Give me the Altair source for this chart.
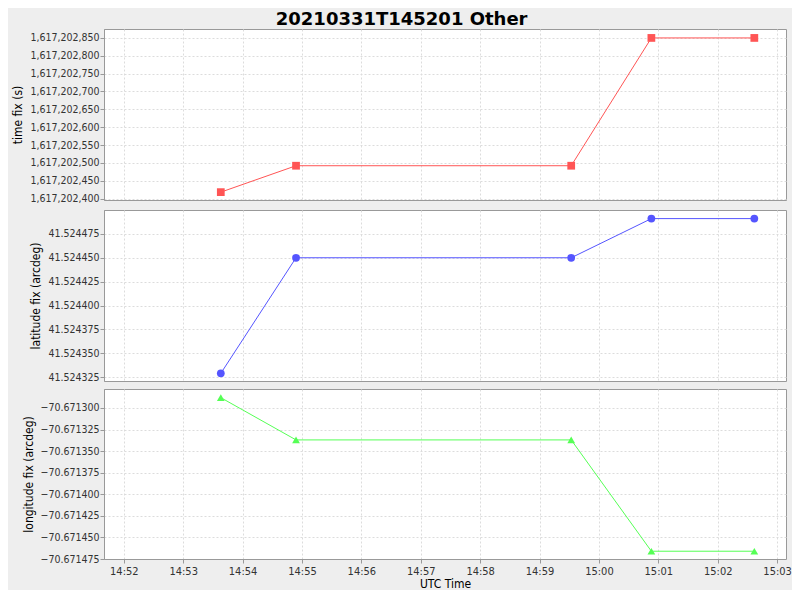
import altair as alt
import pandas as pd

# Data
utc_times = ["2021-03-31T14:53:38Z", "2021-03-31T14:54:54Z", "2021-03-31T14:59:32Z",
             "2021-03-31T15:00:53Z", "2021-03-31T15:02:37Z"]
time_fix = [1617202418, 1617202492, 1617202492, 1617202850, 1617202850]
latitude_fix = [41.524329, 41.524450, 41.524450, 41.524491, 41.524491]
longitude_fix = [-70.671288, -70.671337, -70.671337, -70.671466, -70.671466]

time_ticks = [1617202400 + 50 * i for i in range(10)]
lat_ticks = [41.524325, 41.524350, 41.524375, 41.524400, 41.524425, 41.524450, 41.524475]
lon_ticks = [-70.671475, -70.671450, -70.671425, -70.671400, -70.671375, -70.671350,
             -70.671325, -70.671300]
minute_ticks = [(14, m) for m in range(52, 60)] + [(15, m) for m in range(0, 4)]

df = pd.DataFrame({"t": utc_times, "time": time_fix, "lat": latitude_fix, "lon": longitude_fix})

FONT = "DejaVu Sans Condensed, DejaVu Sans"
x_domain = [alt.DateTime(year=2021, month=3, date=31, hours=14, minutes=51, seconds=40, utc=True),
            alt.DateTime(year=2021, month=3, date=31, hours=15, minutes=3, seconds=9, utc=True)]
x_values = [alt.DateTime(year=2021, month=3, date=31, hours=h, minutes=m, utc=True) for h, m in minute_ticks]

def xenc(show):
    if show:
        ax = alt.Axis(values=x_values, labelExpr="utcFormat(datum.value, '%H:%M')", title="UTC Time",
                      grid=True, gridDash=[2, 2], gridColor="#dcdcdc", labelFont=FONT,
                      labelFontSize=11, titleFont=FONT, titleFontSize=12, titleFontWeight="normal",
                      tickColor="#999999", domainColor="#999999", labelColor="#333333",
                      titleColor="#000000", titlePadding=2, labelPadding=2, tickSize=4)
    else:
        ax = alt.Axis(values=x_values, labels=False, ticks=False, domain=False, title=None,
                      grid=True, gridDash=[2, 2], gridColor="#dcdcdc", labelPadding=0, tickSize=0)
    return alt.X("t:T", scale=alt.Scale(type="utc", domain=x_domain, nice=False), axis=ax)

def panel(field, title, ticks, domain, fmt, color, shape, height, show_x):
    yax = alt.Axis(values=ticks, format=fmt, title=title, grid=True, gridDash=[2, 2],
                   gridColor="#dcdcdc", labelFont=FONT, labelFontSize=10.5, titleFont=FONT,
                   titleFontSize=12, titleFontWeight="normal", tickColor="#999999",
                   domainColor="#999999", labelColor="#333333", titleColor="#000000",
                   tickSize=4, labelPadding=1, titlePadding=5)
    base = alt.Chart(df).encode(
        x=xenc(show_x),
        y=alt.Y(f"{field}:Q", scale=alt.Scale(domain=domain, zero=False, nice=False), axis=yax),
    )
    line = base.mark_line(color=color, strokeWidth=1)
    pts = base.mark_point(color=color, filled=True, opacity=1, shape=shape, size=60)
    return (line + pts).properties(width=682, height=height)

p1 = panel("time", "time fix (s)", time_ticks, [1617202396, 1617202875], ",d",
           "#ff5555", "square", 171, False)
p2 = panel("lat", "latitude fix (arcdeg)", lat_ticks, [41.524321, 41.5245], ".6f",
           "#5555ff", "circle", 171, False)
p3 = panel("lon", "longitude fix (arcdeg)", lon_ticks, [-70.671475, -70.671278], ".6f",
           "#55ff55", "triangle-up", 170, True)

chart = alt.vconcat(p1, p2, p3, spacing=4).properties(
    title=alt.TitleParams("20210331T145201 Other", font="DejaVu Sans", fontSize=18, fontWeight="bold",
                          color="#000000", anchor="middle", offset=0),
    background="#eeeeee",
    padding={"left": 3, "top": 2, "right": 0, "bottom": 0},
).configure_view(stroke="#999999", fill="#ffffff").resolve_scale(x="shared")

chart.save("out.html", embed_options={"renderer": "svg", "actions": False})
